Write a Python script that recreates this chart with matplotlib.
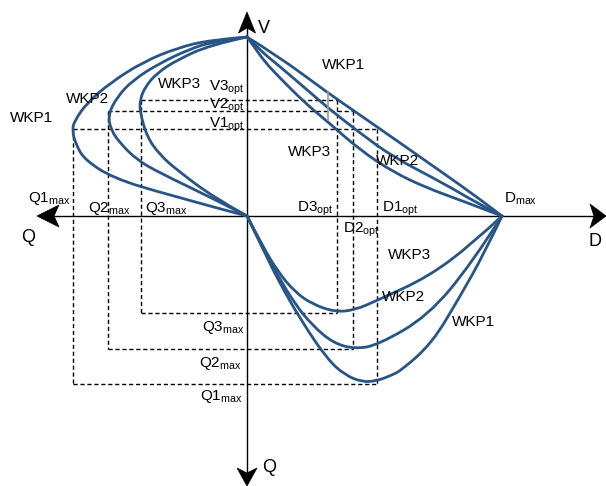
import matplotlib
matplotlib.use("Agg")
import matplotlib.pyplot as plt
from matplotlib.path import Path
from matplotlib.patches import PathPatch, Polygon

plt.rcParams['font.family'] = ['Liberation Sans', 'DejaVu Sans']
plt.rcParams['mathtext.fontset'] = 'custom'
plt.rcParams['mathtext.rm'] = 'Liberation Sans'
plt.rcParams['mathtext.it'] = 'Liberation Sans:italic'

# ---- diagram values (origin = axis crossing; Q left / down, V up, D right) ----
names = ["WKP1", "WKP2", "WKP3"]
V_max = 179
D_max = 255
Q_max_left = [174, 139, 106]      # Q1max, Q2max, Q3max on left Q axis
V_opt = [87, 105, 116]            # V1opt, V2opt, V3opt
D_opt = [130, 106, 90]            # D1opt, D2opt, D3opt
Q_max_down = [168, 133, 97]       # Q1max, Q2max, Q3max on lower Q axis

# Q-V quadrant curves (x = -Q, y = V)
QV_WKP1 = [(0, 179), (-37, 176), (-70, 168), (-104, 154), (-137, 133), (-160, 113),
           (-172, 96), (-175, 86), (-171, 71), (-162, 56), (-134, 38), (-82, 22), (0, 0)]
QV_WKP2 = [(0, 179), (-35, 174), (-57, 167), (-87, 153), (-114, 136), (-130, 119),
           (-139, 101), (-136, 86), (-127, 73), (-110, 56), (-87, 43), (-37, 19), (0, 0)]
QV_WKP3 = [(0, 179), (-37, 171), (-70, 156), (-90, 143), (-102, 129), (-107, 116),
           (-107, 104), (-100, 79), (-87, 61), (-70, 46), (-34, 19), (0, 0)]
# D-V quadrant curves
DV_WKP1 = [(0, 179), (31, 160), (81, 123), (113, 101), (146, 78), (196, 43), (230, 19), (255, 0)]
DV_WKP2 = [(0, 179), (15, 164), (31, 151), (58, 128), (81, 108), (113, 83), (146, 59),
           (196, 33), (230, 13), (255, 0)]
DV_WKP3 = [(0, 179), (8, 168), (18, 154), (31, 140), (58, 113), (81, 94), (113, 66),
           (146, 44), (180, 28), (213, 16), (255, 0)]
# D-Q quadrant curves (y = -Q)
DQ_WKP1 = [(0, 0), (15, -31), (31, -64), (55, -106), (81, -144), (98, -159), (115, -166),
           (129, -165), (143, -160), (155, -154), (185, -127), (211, -84), (238, -36), (255, 0)]
DQ_WKP2 = [(0, 0), (15, -30), (31, -60), (48, -88), (65, -109), (86, -127), (108, -133),
           (131, -129), (181, -100), (225, -47), (255, 0)]
DQ_WKP3 = [(0, 0), (15, -29), (31, -56), (48, -76), (65, -88), (88, -96), (108, -94),
           (131, -84), (181, -61), (225, -28), (255, 0)]

curve_color = '#285587'

fig = plt.figure(figsize=(6.06, 4.86), dpi=100)
ax = fig.add_axes([0, 0, 1, 1])
ax.set_xlim(-247, 606 - 247)
ax.set_ylim(216 - 486, 216)
ax.axis('off')


def smooth_path(pts):
    verts = [pts[0]]
    codes = [Path.MOVETO]
    n = len(pts)
    for i in range(1, n - 1):
        p = pts[i]
        q = pts[i + 1]
        if i < n - 2:
            end = ((p[0] + q[0]) / 2, (p[1] + q[1]) / 2)
        else:
            end = q
        verts += [p, end]
        codes += [Path.CURVE3, Path.CURVE3]
    return Path(verts, codes)


dash = dict(color='black', lw=1.0, linestyle=(0, (3, 2)), zorder=2)
for q, v, d, qd in zip(Q_max_left, V_opt, D_opt, Q_max_down):
    ax.plot([-q, d], [v, v], **dash)
    ax.plot([-q, -q], [v, -qd], **dash)
    ax.plot([-q, d], [-qd, -qd], **dash)
    ax.plot([d, d], [v, -qd], **dash)

# axes lines
ax.plot([0, 0], [195, -262], color='black', lw=1.0, zorder=3)
ax.plot([-200, 350], [0, 0], color='black', lw=1.0, zorder=3)

# arrow heads (stealth style)
arrows = [
    [(0, 204), (-8.5, 183), (0, 188), (8.5, 183)],
    [(-210, 0), (-188, 11), (-193, 0), (-188, -11)],
    [(359, 0), (343, -12), (347, 0), (343, 12)],
    [(0, -270), (-10, -252), (0, -257), (10, -252)],
]
for a in arrows:
    ax.add_patch(Polygon(a, closed=True, facecolor='black', edgecolor='black', lw=0.5, zorder=4))

for pts in [QV_WKP1, QV_WKP2, QV_WKP3, DV_WKP1, DV_WKP2, DV_WKP3, DQ_WKP1, DQ_WKP2, DQ_WKP3]:
    ax.add_patch(PathPatch(smooth_path(pts), facecolor='none', edgecolor=curve_color,
                           lw=2.0, capstyle='round', joinstyle='round', zorder=5))

# small gray tick
ax.plot([81, 81], [96, 124], color='#9a9a9a', lw=1.2, zorder=6)

fs = 11
# axis letters
ax.text(17, 187, "V", fontsize=13, ha='center', va='center')
ax.text(-219, -21, "Q", fontsize=13, ha='center', va='center')
ax.text(22, -251, "Q", fontsize=13, ha='center', va='center')
ax.text(348, -25, "D", fontsize=13, ha='center', va='center')
ax.text(257, 13, r"D$_\mathrm{max}$", fontsize=fs, ha='left', va='baseline')

# curve labels
labels = [
    ("WKP1", 96, 151), ("WKP1", -215, 98), ("WKP2", -160, 117), ("WKP3", -68, 132),
    ("WKP3", 63, 64), ("WKP2", 151, 55),
    ("WKP3", 163, -39), ("WKP2", 156, -81), ("WKP1", 226, -106),
]
for t, x, y in labels:
    ax.text(x, y, t, fontsize=fs, ha='center', va='center', zorder=7)

# opt / max labels
ax.text(-2, 125, r"V3$_\mathrm{opt}$", fontsize=fs, ha='right', va='baseline')
ax.text(-2, 107, r"V2$_\mathrm{opt}$", fontsize=fs, ha='right', va='baseline')
ax.text(-2, 88, r"V1$_\mathrm{opt}$", fontsize=fs, ha='right', va='baseline')
ax.text(-219, 14, r"Q1$_\mathrm{max}$", fontsize=fs, ha='left', va='baseline')
ax.text(-159, 4, r"Q2$_\mathrm{max}$", fontsize=fs, ha='left', va='baseline')
ax.text(-102, 4, r"Q3$_\mathrm{max}$", fontsize=fs, ha='left', va='baseline')
ax.text(50, 4, r"D3$_\mathrm{opt}$", fontsize=fs, ha='left', va='baseline')
ax.text(135, 4, r"D1$_\mathrm{opt}$", fontsize=fs, ha='left', va='baseline')
ax.text(96, -17, r"D2$_\mathrm{opt}$", fontsize=fs, ha='left', va='baseline')
ax.text(-2, -115, r"Q3$_\mathrm{max}$", fontsize=fs, ha='right', va='baseline')
ax.text(-5, -151, r"Q2$_\mathrm{max}$", fontsize=fs, ha='right', va='baseline')
ax.text(-4, -184, r"Q1$_\mathrm{max}$", fontsize=fs, ha='right', va='baseline')

fig.savefig("out.png", dpi=100)
